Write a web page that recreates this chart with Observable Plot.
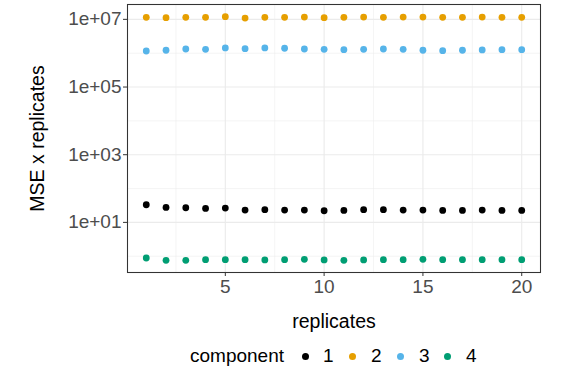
<!DOCTYPE html>
<html><head><meta charset="utf-8">
<script src="https://cdn.jsdelivr.net/npm/d3@7"></script>
<script src="https://cdn.jsdelivr.net/npm/@observablehq/plot@0.6"></script>
<style>
body{margin:0;background:#fff;font-family:"Liberation Sans",Arial,sans-serif;}
#legend{position:absolute;left:0;top:343px;width:568px;height:26px;font-size:19px;color:#000;}
#legend span{position:absolute;top:0;line-height:26px;}
.dot{width:7px;height:7px;border-radius:50%;top:9.5px !important;}
</style>
</head><body>
<div id="chart"></div>
<div id="legend"></div>
<script>
const replicates = d3.range(1, 21);
const components = ["1", "2", "3", "4"];
const colors = ["#000000", "#E69F00", "#56B4E9", "#009E73"];
const comp1 = [33.2, 27.7, 27.1, 25.9, 26.5, 23.1, 23.7, 23.1, 23.1, 22.1, 22.6, 23.7, 23.7, 23.1, 23.1, 22.6, 22.6, 23.1, 22.6, 22.6];
const comp2 = [1.146e7, 1.12e7, 1.146e7, 1.146e7, 1.2e7, 1.094e7, 1.146e7, 1.146e7, 1.17e7, 1.12e7, 1.146e7, 1.17e7, 1.146e7, 1.17e7, 1.17e7, 1.146e7, 1.146e7, 1.17e7, 1.146e7, 1.146e7];
const comp3 = [1.16e6, 1.22e6, 1.33e6, 1.3e6, 1.43e6, 1.36e6, 1.43e6, 1.4e6, 1.33e6, 1.3e6, 1.27e6, 1.3e6, 1.33e6, 1.3e6, 1.22e6, 1.19e6, 1.22e6, 1.25e6, 1.27e6, 1.27e6];
const comp4 = [0.887, 0.757, 0.757, 0.793, 0.793, 0.793, 0.775, 0.793, 0.811, 0.775, 0.757, 0.775, 0.793, 0.793, 0.811, 0.793, 0.793, 0.793, 0.793, 0.793];
const yTicks = [1e1, 1e3, 1e5, 1e7];
const yMinor = [1e0, 1e2, 1e4, 1e6];
const xTicks = [5, 10, 15, 20];
const xMinor = [2.5, 7.5, 12.5, 17.5];
const yLabels = {1e1: "1e+01", 1e3: "1e+03", 1e5: "1e+05", 1e7: "1e+07"};

const series = [comp1, comp2, comp3, comp4];
const data = [];
series.forEach((vals, i) => vals.forEach((v, j) => data.push({replicates: replicates[j], mse: v, component: components[i]})));

const chart = Plot.plot({
  width: 568, height: 340,
  marginLeft: 127, marginRight: 28, marginTop: 4, marginBottom: 68,
  style: {fontFamily: "'Liberation Sans', Arial, sans-serif", fontSize: "19px", background: "#fff", overflow: "visible"},
  x: {domain: [0.05, 20.95]},
  y: {type: "log", domain: [Math.pow(10, -0.481), Math.pow(10, 7.439)]},
  color: {domain: components, range: colors},
  marks: [
    Plot.ruleY(yMinor, {stroke: "#ebebeb", strokeWidth: 0.55}),
    Plot.ruleX(xMinor, {stroke: "#ebebeb", strokeWidth: 0.55}),
    Plot.ruleY(yTicks, {stroke: "#ebebeb", strokeWidth: 1.1}),
    Plot.ruleX(xTicks, {stroke: "#ebebeb", strokeWidth: 1.1}),
    Plot.dot(data, {x: "replicates", y: "mse", fill: "component", r: 3.4, stroke: null}),
    Plot.frame({stroke: "#333", strokeWidth: 1.07}),
    Plot.axisY({ticks: yTicks, tickFormat: d => yLabels[d], tickSize: 4, tickPadding: 2, fontSize: 19, fill: "#4d4d4d", stroke: "#333", label: null}),
    Plot.axisX({ticks: xTicks, tickFormat: d => String(d), tickSize: 4, tickPadding: 3, fontSize: 19, fill: "#4d4d4d", stroke: "#333", label: null}),
    Plot.text(["replicates"], {frameAnchor: "bottom", dy: 55, text: d => d, fontSize: 19.5, fill: "#000"}),
    Plot.text(["MSE x replicates"], {frameAnchor: "left", dx: -90, rotate: -90, textAnchor: "middle", text: d => d, fontSize: 19.5, fill: "#000"})
  ]
});
document.getElementById("chart").appendChild(chart);

const leg = document.getElementById("legend");
const pos = [[305, 328], [352, 376], [400, 424], [447, 471]];
let html = `<span style="left:190px">component</span>`;
components.forEach((c, i) => {
  html += `<span class="dot" style="left:${pos[i][0]-3.5}px;background:${colors[i]}"></span>`;
  html += `<span style="left:${pos[i][1]-5}px">${c}</span>`;
});
leg.innerHTML = html;
</script>
</body></html>
